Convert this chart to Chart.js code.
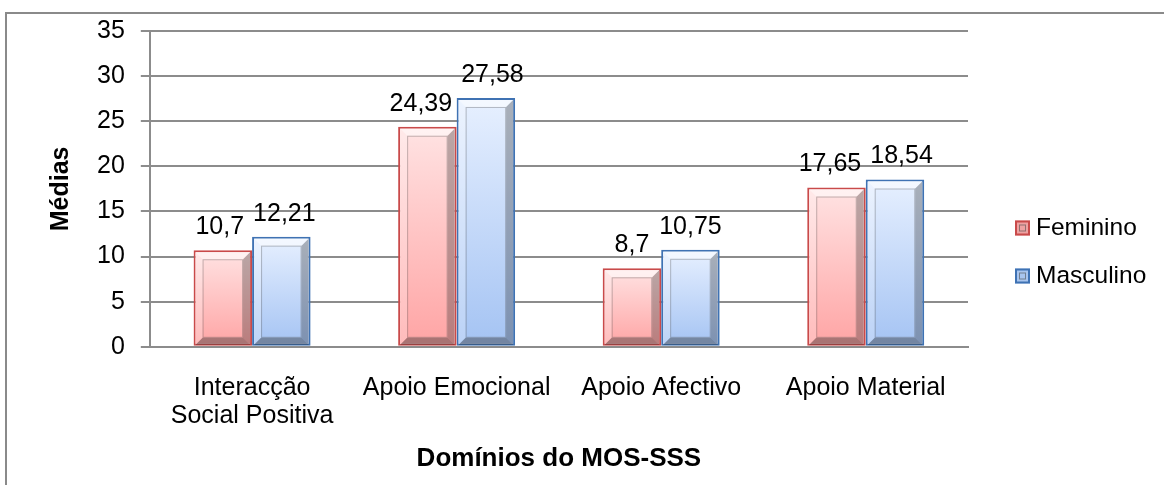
<!DOCTYPE html>
<html>
<head>
<meta charset="utf-8">
<title>Domínios do MOS-SSS</title>
<script src="https://cdn.jsdelivr.net/npm/chart.js@4.4.0/dist/chart.umd.min.js"></script>
<style>
    html, body { margin: 0; padding: 0; background: #fff; }
    body { width: 1164px; height: 485px; position: relative; overflow: hidden; }
    .frame { position: absolute; left: 5px; top: 12px; width: 1250px; height: 600px; border: 2px solid #8a8a8a; }
    #mosChart { position: absolute; left: 0; top: 0; }
</style>
</head>
<body>
<div class="frame"></div>
<canvas id="mosChart" width="1164" height="485"></canvas>
<script>
// Data
const categories = [['Interacção', 'Social Positiva'], 'Apoio Emocional', 'Apoio Afectivo', 'Apoio Material'];
const seriesNames = ['Feminino', 'Masculino'];
const feminino = [10.7, 24.39, 8.7, 17.65];
const masculino = [12.21, 27.58, 10.75, 18.54];
const yMin = 0;
const yMax = 35;
const yStep = 5;

const FONT = "'Liberation Sans', Arial, sans-serif";
const gridGray = '#8c8c8c';

const palette = {
    fem: { top: '#ffe3e3', bottom: '#ffa4a4', border: '#c94a4a', legend: '#eea2a2' },
    masc: { top: '#e7f0ff', bottom: '#a4c3f3', border: '#3f72b3', legend: '#a9c5ee' }
};

// vertical gradient per bar, lighter on top
function barGradient(colors) {
    return (context) => {
        const chart = context.chart;
        const yScale = chart.scales.y;
        if (!chart.chartArea || !yScale || context.raw === undefined) return colors.bottom;
        const top = yScale.getPixelForValue(context.raw);
        const base = yScale.getPixelForValue(0);
        const g = chart.ctx.createLinearGradient(0, top, 0, base);
        g.addColorStop(0, colors.top);
        g.addColorStop(1, colors.bottom);
        return g;
    };
}

function fillPoly(ctx, pts, color) {
    ctx.beginPath();
    ctx.moveTo(pts[0][0], pts[0][1]);
    for (let i = 1; i < pts.length; i++) ctx.lineTo(pts[i][0], pts[i][1]);
    ctx.closePath();
    ctx.fillStyle = color;
    ctx.fill();
}

const fmt = (v) => String(v).replace('.', ',');

// Excel-like bevel on every bar + value labels
const bevelPlugin = {
    id: 'bevel',
    afterDatasetsDraw(chart) {
        const ctx = chart.ctx;
        ctx.save();
        const labels = [];
        chart.data.datasets.forEach((ds, i) => {
            chart.getDatasetMeta(i).data.forEach((bar, j) => {
                const p = bar.getProps(['x', 'y', 'base', 'width'], true);
                const l = p.x - p.width / 2 + 2, r = p.x + p.width / 2 - 2;
                const t = p.y + 2, b = p.base - 1;
                const s = Math.min(7, (b - t) / 2);
                fillPoly(ctx, [[l, t], [r, t], [r - s, t + s], [l + s, t + s]], 'rgba(255,255,255,0.55)');
                fillPoly(ctx, [[l, t], [l + s, t + s], [l + s, b - s], [l, b]], 'rgba(255,255,255,0.25)');
                fillPoly(ctx, [[r, t], [r, b], [r - s, b - s], [r - s, t + s]], 'rgba(40,40,40,0.32)');
                fillPoly(ctx, [[l, b], [r, b], [r - s, b - s], [l + s, b - s]], 'rgba(40,40,40,0.40)');
                ctx.strokeStyle = 'rgba(80,80,80,0.35)';
                ctx.lineWidth = 1;
                ctx.strokeRect(l + s + 0.5, t + s + 0.5, r - l - 2 * s - 1, b - t - 2 * s - 1);

                labels[j] = labels[j] || [];
                labels[j][i] = { text: fmt(ds.data[j]), x: p.x, y: p.y - 23 };
            });
        });

        // value labels, pushed apart when a pair would touch
        ctx.fillStyle = '#000';
        ctx.font = '25px ' + FONT;
        ctx.textAlign = 'center';
        ctx.textBaseline = 'middle';
        labels.forEach(pair => {
            const [a, b] = pair;
            const wa = ctx.measureText(a.text).width, wb = ctx.measureText(b.text).width;
            const gap = (b.x - wb / 2) - (a.x + wa / 2);
            if (gap < 9) {
                const shift = (9 - gap) / 2;
                a.x -= shift;
                b.x += shift;
            }
            pair.forEach(lb => ctx.fillText(lb.text, lb.x, lb.y));
        });
        ctx.restore();
    }
};

// legend at the right, drawn like the reference
const sideLegend = {
    id: 'sideLegend',
    afterDraw(chart) {
        const ctx = chart.ctx;
        const items = [palette.fem, palette.masc];
        ctx.save();
        chart.data.datasets.forEach((ds, i) => {
            const cy = 228 + i * 48;
            const bx = 1015, size = 15;
            const c = items[i];
            ctx.fillStyle = c.legend;
            ctx.fillRect(bx, cy - size / 2, size, size);
            ctx.strokeStyle = c.border;
            ctx.lineWidth = 2;
            ctx.strokeRect(bx + 1, cy - size / 2 + 1, size - 2, size - 2);
            ctx.strokeStyle = 'rgba(70,70,70,0.55)';
            ctx.lineWidth = 1;
            ctx.strokeRect(bx + 4.5, cy - size / 2 + 4.5, size - 9, size - 9);
            ctx.fillStyle = '#000';
            ctx.font = '24.5px ' + FONT;
            ctx.textAlign = 'left';
            ctx.textBaseline = 'middle';
            ctx.fillText(ds.label, 1036, cy);
        });
        ctx.restore();
    }
};

new Chart(document.getElementById('mosChart').getContext('2d'), {
    type: 'bar',
    data: {
        labels: categories,
        datasets: [
            {
                label: seriesNames[0],
                data: feminino,
                backgroundColor: barGradient(palette.fem),
                borderColor: palette.fem.border,
                borderWidth: 2,
                borderSkipped: false
            },
            {
                label: seriesNames[1],
                data: masculino,
                backgroundColor: barGradient(palette.masc),
                borderColor: palette.masc.border,
                borderWidth: 2,
                borderSkipped: false
            }
        ]
    },
    options: {
        responsive: false,
        animation: false,
        devicePixelRatio: 1,
        layout: {
            padding: { left: 46, right: 196, top: 27, bottom: 6 }
        },
        datasets: {
            bar: { categoryPercentage: 0.572, barPercentage: 1 }
        },
        plugins: {
            legend: { display: false },
            tooltip: { enabled: false }
        },
        scales: {
            x: {
                grid: {
                    display: true,
                    drawOnChartArea: false,
                    tickColor: 'transparent',
                    tickLength: 21
                },
                border: { display: true, color: gridGray, width: 2 },
                ticks: {
                    color: '#000',
                    padding: 7,
                    maxRotation: 0,
                    font: { family: FONT, size: 25, lineHeight: 1.1 }
                },
                title: {
                    display: true,
                    text: 'Domínios do MOS-SSS',
                    color: '#000',
                    padding: { top: 6, bottom: 5 },
                    font: { family: FONT, size: 26, weight: 'bold', lineHeight: 1.2 }
                }
            },
            y: {
                min: yMin,
                max: yMax,
                grid: {
                    color: gridGray,
                    lineWidth: 2,
                    tickLength: 9
                },
                border: { display: true, color: gridGray, width: 2 },
                ticks: {
                    stepSize: yStep,
                    color: '#000',
                    padding: 16,
                    font: { family: FONT, size: 25 }
                },
                title: {
                    display: true,
                    text: 'Médias',
                    color: '#000',
                    padding: { top: 0, bottom: 5 },
                    font: { family: FONT, size: 25, weight: 'bold', lineHeight: 1.2 }
                }
            }
        }
    },
    plugins: [bevelPlugin, sideLegend]
});
</script>
</body>
</html>
